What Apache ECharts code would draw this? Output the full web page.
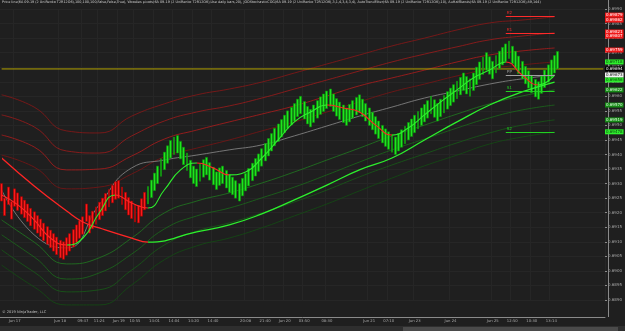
<!DOCTYPE html>
<html>
<head>
<meta charset="utf-8">
<title>6A 09-19 UniRenko</title>
<script src="https://cdn.jsdelivr.net/npm/echarts@6/dist/echarts.min.js"></script>
<style>
html,body{margin:0;padding:0;background:#1f1f1f;}
#main{width:625px;height:331px;}
</style>
</head>
<body>
<div id="main"></div>
<script>
// all prices are in points (1 point = 0.00001)
var closes = [
  69240,69250,69228,69238,69222,69208,69195,69183,69170,69155,
  69143,69130,69118,69104,69092,69080,69068,69056,69045,69100,
  69114,69128,69142,69158,69172,69186,69170,69190,69205,69220,
  69236,69250,69266,69280,69294,69306,69250,69228,69210,69192,
  69180,69168,69225,69248,69270,69290,69312,69336,69360,69385,
  69408,69430,69448,69460,69405,69385,69365,69345,69320,69300,
  69350,69368,69382,69330,69312,69296,69340,69354,69300,69285,
  69270,69262,69250,69300,69318,69335,69352,69370,69386,69402,
  69420,69438,69455,69472,69490,69505,69520,69535,69550,69562,
  69575,69590,69540,69522,69505,69555,69570,69585,69598,69608,
  69618,69565,69548,69532,69520,69510,69560,69572,69585,69596,
  69545,69530,69515,69500,69485,69470,69455,69440,69428,69418,
  69408,69460,69472,69485,69497,69510,69522,69535,69548,69560,
  69572,69585,69540,69528,69575,69590,69603,69616,69628,69640,
  69652,69665,69620,69608,69660,69680,69700,69718,69735,69690,
  69676,69720,69740,69755,69768,69780,69730,69712,69695,69678,
  69660,69643,69628,69612,69598,69650,69670,69690,69708,69725,
  69740,69694
];
var brick = 60;          // renko body height
var redBars = 45;        // bars before this index belong to the down trend
var slots = 186;         // bar slots on the time axis

var tickLabels = [
  [4,'Jun 17'],[18,'Jun 18'],[25,'09:47'],[30,'11:24'],[36,'Jun 19'],[41,'10:55'],
  [47,'14:01'],[53,'14:04'],[59,'14:20'],[65,'14:40'],[75,'20:08'],[81,'21:40'],
  [87,'Jun 20'],[93,'03:50'],[100,'08:30'],[113,'Jun 21'],[119,'07:10'],[127,'Jun 23'],
  [138,'Jun 24'],[151,'Jun 25'],[157,'12:50'],[163,'10:30'],[169,'13:14']
];

// half bands, one value every 10 bars
var bandStep = 10;
var upper1 = [69605,69563,69481,69474,69532,69574,69605,69625,69649,69680,69711,69742,69773,69800,69828,69852,69862,69873];
var upper2 = [69536,69495,69412,69405,69464,69515,69546,69567,69594,69625,69656,69687,69718,69745,69770,69794,69807,69818];
var upper3 = [69467,69426,69347,69350,69395,69453,69484,69512,69539,69567,69601,69636,69663,69690,69718,69742,69756,69766];
var upper4 = [69398,69357,69282,69288,69333,69392,69422,69450,69481,69512,69546,69581,69615,69642,69670,69694,69708,69718];
var middle = [69278,69124,69079,69227,69354,69381,69398,69416,69433,69464,69498,69532,69563,69594,69618,69642,69660,69673];
var lower1 = [69175,69099,69024,69045,69113,69199,69240,69268,69302,69340,69381,69422,69464,69501,69539,69574,69601,69622];
var lower2 = [69124,69048,68972,68993,69058,69144,69189,69216,69251,69288,69330,69374,69416,69453,69491,69526,69553,69570];
var lower3 = [69072,68996,68928,68935,69003,69089,69137,69165,69199,69237,69278,69323,69364,69402,69440,69474,69501,69519];
var lower4 = [69020,68945,68883,68883,68952,69038,69086,69113,69148,69189,69230,69275,69319,69361,69398,69436,69460,69477];

// trend filter lines [bar, price]
var slowLine = [[0,69388],[10,69292],[20,69206],[25,69168],[30,69148],[40,69113],[45,69099],[60,69134],[70,69158],
  [80,69196],[90,69244],[100,69295],[110,69347],[120,69388],[130,69450],[140,69512],[150,69570],[160,69615],[170,69649]];
var fastLine = [[0,69261],[5,69227],[10,69175],[15,69113],[20,69089],[25,69113],[30,69199],[35,69261],[40,69233],
  [45,69216],[50,69278],[55,69347],[60,69371],[65,69354],[70,69330],[75,69340],[80,69388],[85,69450],[90,69512],
  [95,69546],[100,69570],[105,69560],[110,69546],[115,69501],[120,69467],[125,69491],[130,69536],[135,69581],
  [140,69622],[145,69663],[150,69690],[155,69718],[160,69673],[165,69639],[170,69673]];

// woodies pivots drawn over the last session
var pivotFrom = 155, pivotTo = 170;
var pivots = [['R2',69876],['R1',69818],['PP',69673],['S1',69618],['S2',69477]];

var lastPrice = 69694;
var priceBoxes = [
  [69879,'red'],[69862,'red'],[69821,'red'],[69807,'red'],[69759,'red'],[69718,'lime'],
  [69694,'last'],[69673,'white'],[69656,'lime'],[69622,'green'],[69570,'green'],[69519,'green'],[69478,'lime']
];

var title = 'Price line(6A 09-19 (2 UniRenko T2R12O6),100,100,100,False,False,True), Woodies pivots(6A 09-19 (2 UniRenko T2R12O6),Use daily bars,20), JOOStochasticCOG(6A 09-19 (2 UniRenko T2R12O6),3,1,4,3,4,3,4), AutoTrendFilter(6A 09-19 (2 UniRenko T2R12O6),10), AuHalfBands(6A 09-19 (2 UniRenko T2R12O6),89,144)';

var boxStyle = {
  red:   {bg:'#f01818', fg:'#ffffff'},
  lime:  {bg:'#2ef02e', fg:'#0a3a0a'},
  green: {bg:'#158a15', fg:'#e8ffe8'},
  white: {bg:'#f2f2f2', fg:'#111111'},
  last:  {bg:'#000000', fg:'#ffffff'}
};

var cats = [];
for (var i = 0; i < slots; i++) cats.push('');
tickLabels.forEach(function(t){ cats[t[0]] = t[1]; });
function hasLabel(idx){ return cats[idx] !== ''; }

var candles = closes.map(function(c, i){
  var prev = i ? closes[i-1] : c + 1;
  var o = c > prev ? c - brick : c + brick;
  var bull = i >= redBars;
  var body = bull ? '#1ee61e' : '#ff1a1a';
  var edge = bull ? '#0c930c' : '#a80000';
  return {
    value: [o, c, Math.min(o, c), Math.max(o, c)],
    itemStyle: {color: body, color0: body, borderColor: edge, borderColor0: edge, borderWidth: 0.6}
  };
});

function sampled(arr){ return arr.map(function(v, k){ return [k * bandStep, v]; }); }
function band(arr, color, width){
  return {type:'line', data: sampled(arr), smooth: 0.5, symbol:'none', clip:false, z:2,
    lineStyle:{color: color, width: width || 0.8}, silent:true};
}
function slopePieces(pts){
  var out = [];
  for (var k = 1; k < pts.length; k++) {
    out.push({gte: pts[k-1][0], lte: pts[k][0],
      color: pts[k][1] < pts[k-1][1] ? '#ff2424' : '#2cf02c'});
  }
  return out;
}
function fmt(v){ return (v / 1e5).toFixed(5); }
function boxLabel(kind){
  var st = boxStyle[kind];
  return {show:true, position:'end', distance:0, formatter: function(p){ return fmt(p.value); },
    backgroundColor: st.bg, color: st.fg, fontSize: 4, fontFamily:'DejaVu Sans',
    padding:[1,1,0,1], lineHeight:4};
}

var hidden = {color:'rgba(0,0,0,0)', width:0, type:'solid'};
var markData = priceBoxes.map(function(b){
  return {yAxis: b[0], lineStyle: hidden, label: boxLabel(b[1])};
});
pivots.forEach(function(p){
  var col = p[0].charAt(0) === 'R' ? '#ff2a2a' : (p[0] === 'PP' ? '#a0a0a0' : '#22d022');
  markData.push([
    {coord:[pivotFrom, p[1]], lineStyle:{color: col, width:1, type:'solid'},
      label:{show:true, position:'insideStartTop', formatter: p[0], color: col, fontSize:4, distance:1}},
    {coord:[pivotTo, p[1]]}
  ]);
});

var series = [
  {type:'candlestick', data: candles, barWidth: 2.4, clip:false, z:3, silent:true},
  band(upper1, '#8a1616'), band(upper2, '#9e1a1a'), band(upper3, '#b01c1c'), band(upper4, '#7a1414'),
  band(middle, '#8c8c8c'),
  band(lower1, '#1f7a1f'), band(lower2, '#1a6a1a'), band(lower3, '#175c17'), band(lower4, '#134d13'),
  {type:'line', data: slowLine, smooth: 0.5, symbol:'none', clip:false, z:4, lineStyle:{width:1.3}, silent:true},
  {type:'line', data: fastLine, smooth: 0.5, symbol:'none', clip:false, z:4, lineStyle:{width:1.1}, silent:true},
  // current price line
  {type:'line', data: [[0, lastPrice], [slots - 1, lastPrice]], symbol:'none', z:2, silent:true,
    lineStyle:{color:'#b3a200', width:1}},
  {type:'line', data: [], z:6, silent:true,
    markLine: {silent:true, symbol:['none','none'], animation:false, data: markData}}
];

var chart = echarts.init(document.getElementById('main'), null, {renderer:'canvas'});
chart.setOption({
  backgroundColor:'#1f1f1f',
  animation:false,
  grid:{left:0, right:17, top:9, bottom:31},
  xAxis:{
    type:'category', data: cats, offset:17, boundaryGap:true,
    axisLine:{lineStyle:{color:'#8a8a8a'}},
    axisTick:{alignWithLabel:true, interval: hasLabel, length:2, lineStyle:{color:'#8a8a8a'}},
    axisLabel:{interval: hasLabel, color:'#a8a8a8', fontSize:3.8, margin:2, fontFamily:'DejaVu Sans'},
    splitLine:{show:true, interval: hasLabel, lineStyle:{color:'#262626', width:1}}
  },
  yAxis:{
    type:'value', position:'right', min:68900, max:69900, interval:50,
    axisLine:{show:false},
    axisTick:{show:true, length:2, lineStyle:{color:'#8a8a8a'}},
    axisLabel:{color:'#a8a8a8', fontSize:4, margin:3, fontFamily:'DejaVu Sans',
      formatter: function(v){ return (v / 1e5).toFixed(4); }},
    splitLine:{show:true, lineStyle:{color:'#262626', width:1}}
  },
  visualMap:[
    {show:false, type:'piecewise', dimension:0, seriesIndex:10, pieces: slopePieces(slowLine)},
    {show:false, type:'piecewise', dimension:0, seriesIndex:11, pieces: slopePieces(fastLine)}
  ],
  graphic:[
    {type:'line', shape:{x1:608.5, y1:0, x2:608.5, y2:317}, style:{stroke:'#8a8a8a', lineWidth:1}, z:1},
    {type:'text', left:2, top:1, style:{text: title, fill:'#d0d0d0', fontSize:3.4, fontFamily:'DejaVu Sans'}, z:10},
    {type:'text', left:2, top:310, style:{text:'\u00a9 2019 NinjaTrader, LLC', fill:'#c0c0c0', fontSize:3.6, fontFamily:'DejaVu Sans'}, z:10},
    {type:'rect', shape:{x:0, y:326, width:625, height:5}, style:{fill:'#2e2e2e'}, z:1},
    {type:'rect', shape:{x:403, y:327, width:215, height:4}, style:{fill:'#4a4a4a'}, z:2}
  ],
  series: series
});
</script>
</body>
</html>
